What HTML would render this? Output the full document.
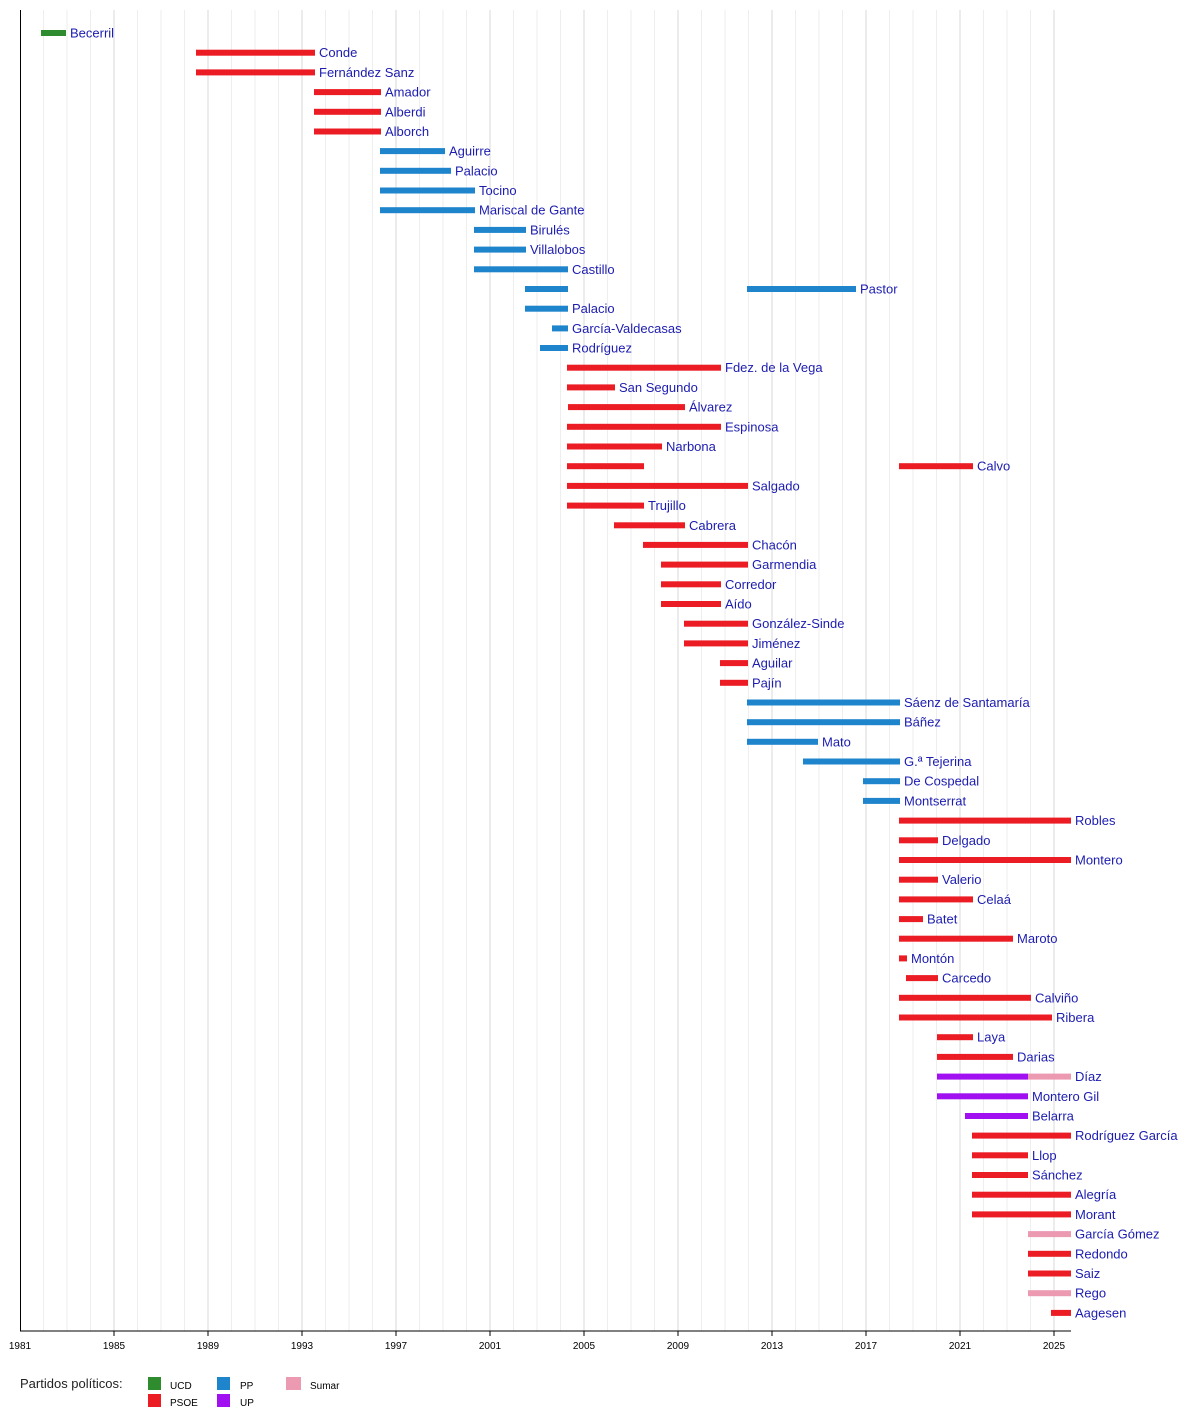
<!DOCTYPE html>
<html><head><meta charset="utf-8"><style>
html,body{margin:0;padding:0;background:#fff;}
svg{display:block;font-family:"Liberation Sans",sans-serif;}
.l{fill:#1c1cb0;font-size:13px;}
.r{fill:#ec1c24}.b{fill:#1e84cc}.p{fill:#a010f0}.k{fill:#ec9ab2}.g{fill:#2e8b2e}
.t{font-size:10px;fill:#000;text-anchor:middle}
</style></head><body>
<svg width="1200" height="1410" viewBox="0 0 1200 1410">
<g stroke="#eeeeee" stroke-width="1">
<line x1="43.5" y1="10" x2="43.5" y2="1331"/><line x1="67" y1="10" x2="67" y2="1331"/><line x1="90.5" y1="10" x2="90.5" y2="1331"/>
<line x1="137.5" y1="10" x2="137.5" y2="1331"/><line x1="161" y1="10" x2="161" y2="1331"/><line x1="184.5" y1="10" x2="184.5" y2="1331"/>
<line x1="231.5" y1="10" x2="231.5" y2="1331"/><line x1="255" y1="10" x2="255" y2="1331"/><line x1="278.5" y1="10" x2="278.5" y2="1331"/>
<line x1="325.5" y1="10" x2="325.5" y2="1331"/><line x1="349" y1="10" x2="349" y2="1331"/><line x1="372.5" y1="10" x2="372.5" y2="1331"/>
<line x1="419.5" y1="10" x2="419.5" y2="1331"/><line x1="443" y1="10" x2="443" y2="1331"/><line x1="466.5" y1="10" x2="466.5" y2="1331"/>
<line x1="513.5" y1="10" x2="513.5" y2="1331"/><line x1="537" y1="10" x2="537" y2="1331"/><line x1="560.5" y1="10" x2="560.5" y2="1331"/>
<line x1="607.5" y1="10" x2="607.5" y2="1331"/><line x1="631" y1="10" x2="631" y2="1331"/><line x1="654.5" y1="10" x2="654.5" y2="1331"/>
<line x1="701.5" y1="10" x2="701.5" y2="1331"/><line x1="725" y1="10" x2="725" y2="1331"/><line x1="748.5" y1="10" x2="748.5" y2="1331"/>
<line x1="795.5" y1="10" x2="795.5" y2="1331"/><line x1="819" y1="10" x2="819" y2="1331"/><line x1="842.5" y1="10" x2="842.5" y2="1331"/>
<line x1="889.5" y1="10" x2="889.5" y2="1331"/><line x1="913" y1="10" x2="913" y2="1331"/><line x1="936.5" y1="10" x2="936.5" y2="1331"/>
<line x1="983.5" y1="10" x2="983.5" y2="1331"/><line x1="1007" y1="10" x2="1007" y2="1331"/><line x1="1030.5" y1="10" x2="1030.5" y2="1331"/>
</g>
<g stroke="#d8d8d8" stroke-width="1">
<line x1="114" y1="10" x2="114" y2="1331"/><line x1="208" y1="10" x2="208" y2="1331"/><line x1="302" y1="10" x2="302" y2="1331"/>
<line x1="396" y1="10" x2="396" y2="1331"/><line x1="490" y1="10" x2="490" y2="1331"/><line x1="584" y1="10" x2="584" y2="1331"/>
<line x1="678" y1="10" x2="678" y2="1331"/><line x1="772" y1="10" x2="772" y2="1331"/><line x1="866" y1="10" x2="866" y2="1331"/>
<line x1="960" y1="10" x2="960" y2="1331"/><line x1="1054" y1="10" x2="1054" y2="1331"/>
</g>
<line x1="20.5" y1="10" x2="20.5" y2="1331" stroke="#000"/>
<line x1="20" y1="1331" x2="1071" y2="1331" stroke="#000"/>
<g stroke="#000">
<line x1="114" y1="1331" x2="114" y2="1336"/><line x1="208" y1="1331" x2="208" y2="1336"/><line x1="302" y1="1331" x2="302" y2="1336"/><line x1="396" y1="1331" x2="396" y2="1336"/><line x1="490" y1="1331" x2="490" y2="1336"/><line x1="584" y1="1331" x2="584" y2="1336"/><line x1="678" y1="1331" x2="678" y2="1336"/><line x1="772" y1="1331" x2="772" y2="1336"/><line x1="866" y1="1331" x2="866" y2="1336"/><line x1="960" y1="1331" x2="960" y2="1336"/><line x1="1054" y1="1331" x2="1054" y2="1336"/>
</g>
<text class="t" x="20" y="1349">1981</text><text class="t" x="114" y="1349">1985</text><text class="t" x="208" y="1349">1989</text><text class="t" x="302" y="1349">1993</text><text class="t" x="396" y="1349">1997</text><text class="t" x="490" y="1349">2001</text><text class="t" x="584" y="1349">2005</text><text class="t" x="678" y="1349">2009</text><text class="t" x="772" y="1349">2013</text><text class="t" x="866" y="1349">2017</text><text class="t" x="960" y="1349">2021</text><text class="t" x="1054" y="1349">2025</text>

<rect class="g" x="41" y="30" width="25" height="6"/><text class="l" x="70" y="37.5">Becerril</text>
<rect class="r" x="196" y="49.7" width="119" height="6"/><text class="l" x="319" y="57.2">Conde</text>
<rect class="r" x="196" y="69.4" width="119" height="6"/><text class="l" x="319" y="76.9">Fernández Sanz</text>
<rect class="r" x="314" y="89.1" width="67" height="6"/><text class="l" x="385" y="96.6">Amador</text>
<rect class="r" x="314" y="108.8" width="67" height="6"/><text class="l" x="385" y="116.3">Alberdi</text>
<rect class="r" x="314" y="128.5" width="67" height="6"/><text class="l" x="385" y="136">Alborch</text>
<rect class="b" x="380" y="148.1" width="65" height="6"/><text class="l" x="449" y="155.6">Aguirre</text>
<rect class="b" x="380" y="167.8" width="71" height="6"/><text class="l" x="455" y="175.3">Palacio</text>
<rect class="b" x="380" y="187.5" width="95" height="6"/><text class="l" x="479" y="195">Tocino</text>
<rect class="b" x="380" y="207.2" width="95" height="6"/><text class="l" x="479" y="214.7">Mariscal de Gante</text>
<rect class="b" x="474" y="226.9" width="52" height="6"/><text class="l" x="530" y="234.4">Birulés</text>
<rect class="b" x="474" y="246.6" width="52" height="6"/><text class="l" x="530" y="254.1">Villalobos</text>
<rect class="b" x="474" y="266.3" width="94" height="6"/><text class="l" x="572" y="273.8">Castillo</text>
<rect class="b" x="525" y="286" width="43" height="6"/><rect class="b" x="747" y="286" width="109" height="6"/><text class="l" x="860" y="293.5">Pastor</text>
<rect class="b" x="525" y="305.7" width="43" height="6"/><text class="l" x="572" y="313.2">Palacio</text>
<rect class="b" x="552" y="325.4" width="16" height="6"/><text class="l" x="572" y="332.9">García-Valdecasas</text>
<rect class="b" x="540" y="345" width="28" height="6"/><text class="l" x="572" y="352.5">Rodríguez</text>
<rect class="r" x="567" y="364.7" width="154" height="6"/><text class="l" x="725" y="372.2">Fdez. de la Vega</text>
<rect class="r" x="567" y="384.4" width="48" height="6"/><text class="l" x="619" y="391.9">San Segundo</text>
<rect class="r" x="568" y="404.1" width="117" height="6"/><text class="l" x="689" y="411.6">Álvarez</text>
<rect class="r" x="567" y="423.8" width="154" height="6"/><text class="l" x="725" y="431.3">Espinosa</text>
<rect class="r" x="567" y="443.5" width="95" height="6"/><text class="l" x="666" y="451">Narbona</text>
<rect class="r" x="567" y="463.2" width="77" height="6"/><rect class="r" x="899" y="463.2" width="74" height="6"/><text class="l" x="977" y="470.7">Calvo</text>
<rect class="r" x="567" y="482.9" width="181" height="6"/><text class="l" x="752" y="490.4">Salgado</text>
<rect class="r" x="567" y="502.6" width="77" height="6"/><text class="l" x="648" y="510.1">Trujillo</text>
<rect class="r" x="614" y="522.3" width="71" height="6"/><text class="l" x="689" y="529.8">Cabrera</text>
<rect class="r" x="643" y="541.9" width="105" height="6"/><text class="l" x="752" y="549.4">Chacón</text>
<rect class="r" x="661" y="561.6" width="87" height="6"/><text class="l" x="752" y="569.1">Garmendia</text>
<rect class="r" x="661" y="581.3" width="60" height="6"/><text class="l" x="725" y="588.8">Corredor</text>
<rect class="r" x="661" y="601" width="60" height="6"/><text class="l" x="725" y="608.5">Aído</text>
<rect class="r" x="684" y="620.7" width="64" height="6"/><text class="l" x="752" y="628.2">González-Sinde</text>
<rect class="r" x="684" y="640.4" width="64" height="6"/><text class="l" x="752" y="647.9">Jiménez</text>
<rect class="r" x="720" y="660.1" width="28" height="6"/><text class="l" x="752" y="667.6">Aguilar</text>
<rect class="r" x="720" y="679.8" width="28" height="6"/><text class="l" x="752" y="687.3">Pajín</text>
<rect class="b" x="747" y="699.5" width="153" height="6"/><text class="l" x="904" y="707">Sáenz de Santamaría</text>
<rect class="b" x="747" y="719.2" width="153" height="6"/><text class="l" x="904" y="726.7">Báñez</text>
<rect class="b" x="747" y="738.8" width="71" height="6"/><text class="l" x="822" y="746.3">Mato</text>
<rect class="b" x="803" y="758.5" width="97" height="6"/><text class="l" x="904" y="766">G.ª Tejerina</text>
<rect class="b" x="863" y="778.2" width="37" height="6"/><text class="l" x="904" y="785.7">De Cospedal</text>
<rect class="b" x="863" y="797.9" width="37" height="6"/><text class="l" x="904" y="805.4">Montserrat</text>
<rect class="r" x="899" y="817.6" width="172" height="6"/><text class="l" x="1075" y="825.1">Robles</text>
<rect class="r" x="899" y="837.3" width="39" height="6"/><text class="l" x="942" y="844.8">Delgado</text>
<rect class="r" x="899" y="857" width="172" height="6"/><text class="l" x="1075" y="864.5">Montero</text>
<rect class="r" x="899" y="876.7" width="39" height="6"/><text class="l" x="942" y="884.2">Valerio</text>
<rect class="r" x="899" y="896.4" width="74" height="6"/><text class="l" x="977" y="903.9">Celaá</text>
<rect class="r" x="899" y="916.1" width="24" height="6"/><text class="l" x="927" y="923.6">Batet</text>
<rect class="r" x="899" y="935.7" width="114" height="6"/><text class="l" x="1017" y="943.2">Maroto</text>
<rect class="r" x="899" y="955.4" width="8" height="6"/><text class="l" x="911" y="962.9">Montón</text>
<rect class="r" x="906" y="975.1" width="32" height="6"/><text class="l" x="942" y="982.6">Carcedo</text>
<rect class="r" x="899" y="994.8" width="132" height="6"/><text class="l" x="1035" y="1002.3">Calviño</text>
<rect class="r" x="899" y="1014.5" width="153" height="6"/><text class="l" x="1056" y="1022">Ribera</text>
<rect class="r" x="937" y="1034.2" width="36" height="6"/><text class="l" x="977" y="1041.7">Laya</text>
<rect class="r" x="937" y="1053.9" width="76" height="6"/><text class="l" x="1017" y="1061.4">Darias</text>
<rect class="p" x="937" y="1073.6" width="91" height="6"/><rect class="k" x="1028" y="1073.6" width="43" height="6"/><text class="l" x="1075" y="1081.1">Díaz</text>
<rect class="p" x="937" y="1093.3" width="91" height="6"/><text class="l" x="1032" y="1100.8">Montero Gil</text>
<rect class="p" x="965" y="1113" width="63" height="6"/><text class="l" x="1032" y="1120.5">Belarra</text>
<rect class="r" x="972" y="1132.6" width="99" height="6"/><text class="l" x="1075" y="1140.1">Rodríguez García</text>
<rect class="r" x="972" y="1152.3" width="56" height="6"/><text class="l" x="1032" y="1159.8">Llop</text>
<rect class="r" x="972" y="1172" width="56" height="6"/><text class="l" x="1032" y="1179.5">Sánchez</text>
<rect class="r" x="972" y="1191.7" width="99" height="6"/><text class="l" x="1075" y="1199.2">Alegría</text>
<rect class="r" x="972" y="1211.4" width="99" height="6"/><text class="l" x="1075" y="1218.9">Morant</text>
<rect class="k" x="1028" y="1231.1" width="43" height="6"/><text class="l" x="1075" y="1238.6">García Gómez</text>
<rect class="r" x="1028" y="1250.8" width="43" height="6"/><text class="l" x="1075" y="1258.3">Redondo</text>
<rect class="r" x="1028" y="1270.5" width="43" height="6"/><text class="l" x="1075" y="1278">Saiz</text>
<rect class="k" x="1028" y="1290.2" width="43" height="6"/><text class="l" x="1075" y="1297.7">Rego</text>
<rect class="r" x="1051" y="1309.9" width="20" height="6"/><text class="l" x="1075" y="1317.4">Aagesen</text>

<text x="20" y="1388" style="font-size:13px;fill:#222">Partidos políticos:</text>
<rect class="g" x="148" y="1377" width="13" height="13"/><text x="170" y="1389" style="font-size:10px">UCD</text>
<rect class="r" x="148" y="1394" width="13" height="13"/><text x="170" y="1406" style="font-size:10px">PSOE</text>
<rect class="b" x="217" y="1377" width="13" height="13"/><text x="240" y="1389" style="font-size:10px">PP</text>
<rect class="p" x="217" y="1394" width="13" height="13"/><text x="240" y="1406" style="font-size:10px">UP</text>
<rect class="k" x="286" y="1377" width="15" height="13"/><text x="310" y="1389" style="font-size:10px">Sumar</text>
</svg>
</body></html>
